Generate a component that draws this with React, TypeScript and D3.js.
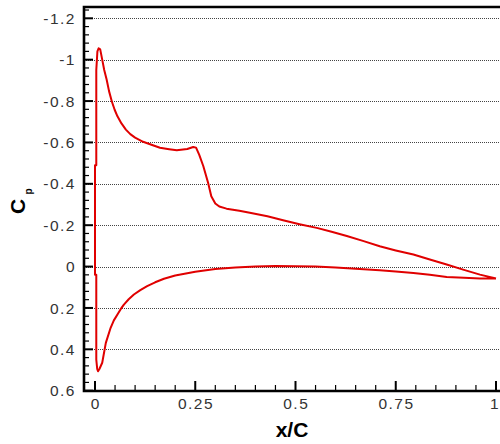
import { useEffect, useRef } from "react";
import * as d3 from "d3";

// upper (suction) surface, leading edge -> trailing edge
const upperX = [0.0, 0.0032, 0.0032, 0.006, 0.009, 0.013, 0.018, 0.023, 0.029, 0.035, 0.042, 0.049, 0.056, 0.066, 0.077, 0.088, 0.1, 0.12, 0.139, 0.162, 0.185, 0.204, 0.23, 0.245, 0.252, 0.26, 0.27, 0.282, 0.29, 0.3, 0.31, 0.328, 0.36, 0.386, 0.43, 0.469, 0.51, 0.553, 0.59, 0.628, 0.67, 0.71, 0.75, 0.794, 0.835, 0.877, 0.918, 0.96, 1.0];
const upperCp = [-0.49, -0.49, -0.95, -1.04, -1.055, -1.05, -1.0, -0.95, -0.904, -0.848, -0.798, -0.758, -0.726, -0.692, -0.662, -0.64, -0.623, -0.603, -0.59, -0.574, -0.567, -0.562, -0.568, -0.578, -0.575, -0.54, -0.486, -0.405, -0.34, -0.305, -0.29, -0.28, -0.27, -0.26, -0.243, -0.224, -0.205, -0.187, -0.168, -0.148, -0.123, -0.098, -0.078, -0.058, -0.034, -0.01, 0.015, 0.039, 0.058];

// lower (pressure) surface, leading edge -> trailing edge
const lowerX = [0.0, 0.0032, 0.0032, 0.0055, 0.0075, 0.011, 0.018, 0.027, 0.039, 0.047, 0.056, 0.064, 0.072, 0.084, 0.097, 0.113, 0.13, 0.15, 0.172, 0.2, 0.25, 0.3, 0.35, 0.4, 0.45, 0.5, 0.55, 0.6, 0.65, 0.71, 0.75, 0.794, 0.835, 0.877, 0.92, 0.96, 1.0];
const lowerCp = [0.04, 0.04, 0.45, 0.495, 0.506, 0.495, 0.465, 0.369, 0.296, 0.26, 0.232, 0.206, 0.184, 0.158, 0.135, 0.114, 0.095, 0.076, 0.059, 0.043, 0.025, 0.012, 0.005, 0.0, -0.003, -0.002, 0.0, 0.004, 0.01, 0.018, 0.024, 0.031, 0.04, 0.05, 0.054, 0.058, 0.058];

const xTicks = [0, 0.25, 0.5, 0.75, 1];
const xTickLabels = ["0", "0.25", "0.5", "0.75", "1"];
const yTicks = [-1.2, -1, -0.8, -0.6, -0.4, -0.2, 0, 0.2, 0.4, 0.6];
const yTickLabels = ["-1.2", "-1", "-0.8", "-0.6", "-0.4", "-0.2", "0", "0.2", "0.4", "0.6"];

const FONT = "'Liberation Sans', Arial, sans-serif";

export default function App() {
  const ref = useRef<SVGSVGElement>(null);

  useEffect(() => {
    draw();
  }, []);

  function draw() {
    const svg = d3.select(ref.current);
    svg.selectAll("*").remove();

    const width = 500;
    const height = 444;
    const left = 84;
    const right = 502;
    const top = 7;
    const bottom = 391;

    const x = d3.scaleLinear().domain([0, 1]).range([95, 496]);
    const y = d3.scaleLinear().domain([-1.2, 0.6]).range([18.3, 390.7]);

    svg.attr("width", width).attr("height", height);

    // dotted gridlines
    svg.append("g")
      .selectAll("line")
      .data(yTicks.filter(v => v < 0.6))
      .join("line")
      .attr("x1", left)
      .attr("x2", right)
      .attr("y1", d => Math.round(y(d)) + 0.5)
      .attr("y2", d => Math.round(y(d)) + 0.5)
      .attr("stroke", "#444")
      .attr("stroke-width", 1)
      .attr("stroke-dasharray", "1,1")
      .attr("shape-rendering", "crispEdges");

    // curve: trailing edge -> lower -> leading edge -> upper -> trailing edge
    const lowerPts = lowerX.map((v, i) => [v, lowerCp[i]] as [number, number]).reverse();
    const upperPts = upperX.map((v, i) => [v, upperCp[i]] as [number, number]);
    const line = d3.line<[number, number]>()
      .x(d => x(d[0]))
      .y(d => y(d[1]));

    svg.append("path")
      .attr("d", line([...lowerPts, ...upperPts]))
      .attr("fill", "none")
      .attr("stroke", "#e00000")
      .attr("stroke-width", 2)
      .attr("stroke-linejoin", "round");

    // minor / major ticks
    const isMajor = (arr: number[], d: number) => arr.some(t => Math.abs(t - d) < 1e-6);
    const yMinor = d3.range(0, 47).map(i => +(-1.24 + i * 0.04).toFixed(2));
    svg.append("g")
      .selectAll("line")
      .data(yMinor)
      .join("line")
      .attr("x1", left)
      .attr("x2", d => (isMajor(yTicks, d) ? left + 9 : left + 5))
      .attr("y1", d => y(d))
      .attr("y2", d => y(d))
      .attr("stroke", "#000")
      .attr("stroke-width", d => (isMajor(yTicks, d) ? 2 : 1.2));

    const xMinor = d3.range(0, 21).map(i => +(i * 0.05).toFixed(2));
    svg.append("g")
      .selectAll("line")
      .data(xMinor)
      .join("line")
      .attr("x1", d => x(d))
      .attr("x2", d => x(d))
      .attr("y1", bottom)
      .attr("y2", d => (isMajor(xTicks, d) ? bottom - 10 : bottom - 6))
      .attr("stroke", "#000")
      .attr("stroke-width", d => (isMajor(xTicks, d) ? 2 : 1.2));

    // frame
    svg.append("path")
      .attr("d", `M${right},${top}H${left}V${bottom}H${right}`)
      .attr("fill", "none")
      .attr("stroke", "#000")
      .attr("stroke-width", 2.6);

    // tick labels
    svg.append("g")
      .selectAll("text")
      .data(yTicks)
      .join("text")
      .attr("x", 76)
      .attr("y", d => y(d))
      .attr("dy", "0.36em")
      .attr("text-anchor", "end")
      .style("font-family", FONT)
      .style("font-size", "15.5px")
      .style("letter-spacing", "1.5px")
      .style("fill", "#333")
      .text((_, i) => yTickLabels[i]);

    svg.append("g")
      .selectAll("text")
      .data(xTicks)
      .join("text")
      .attr("x", d => Math.min(x(d) + 0.75, 495))
      .attr("y", 409)
      .attr("text-anchor", "middle")
      .style("font-family", FONT)
      .style("font-size", "15.5px")
      .style("letter-spacing", "1.5px")
      .style("fill", "#333")
      .text((_, i) => xTickLabels[i]);

    // axis titles
    svg.append("text")
      .attr("x", 292)
      .attr("y", 437)
      .attr("text-anchor", "middle")
      .style("font-family", FONT)
      .style("font-size", "21px")
      .style("font-weight", "700")
      .style("fill", "#000")
      .text("x/C");

    svg.append("text")
      .attr("transform", "translate(25,206.5) rotate(-90)")
      .attr("text-anchor", "middle")
      .style("font-family", FONT)
      .style("font-size", "21px")
      .style("font-weight", "700")
      .style("fill", "#000")
      .text("C");

    svg.append("text")
      .attr("transform", "translate(32,191.5) rotate(-90)")
      .attr("text-anchor", "middle")
      .style("font-family", FONT)
      .style("font-size", "10px")
      .style("font-weight", "700")
      .style("fill", "#000")
      .text("p");
  }

  return (
    <div style={{ position: "absolute", left: 0, top: 0, background: "white" }}>
      <svg ref={ref} style={{ display: "block" }}></svg>
    </div>
  );
}
